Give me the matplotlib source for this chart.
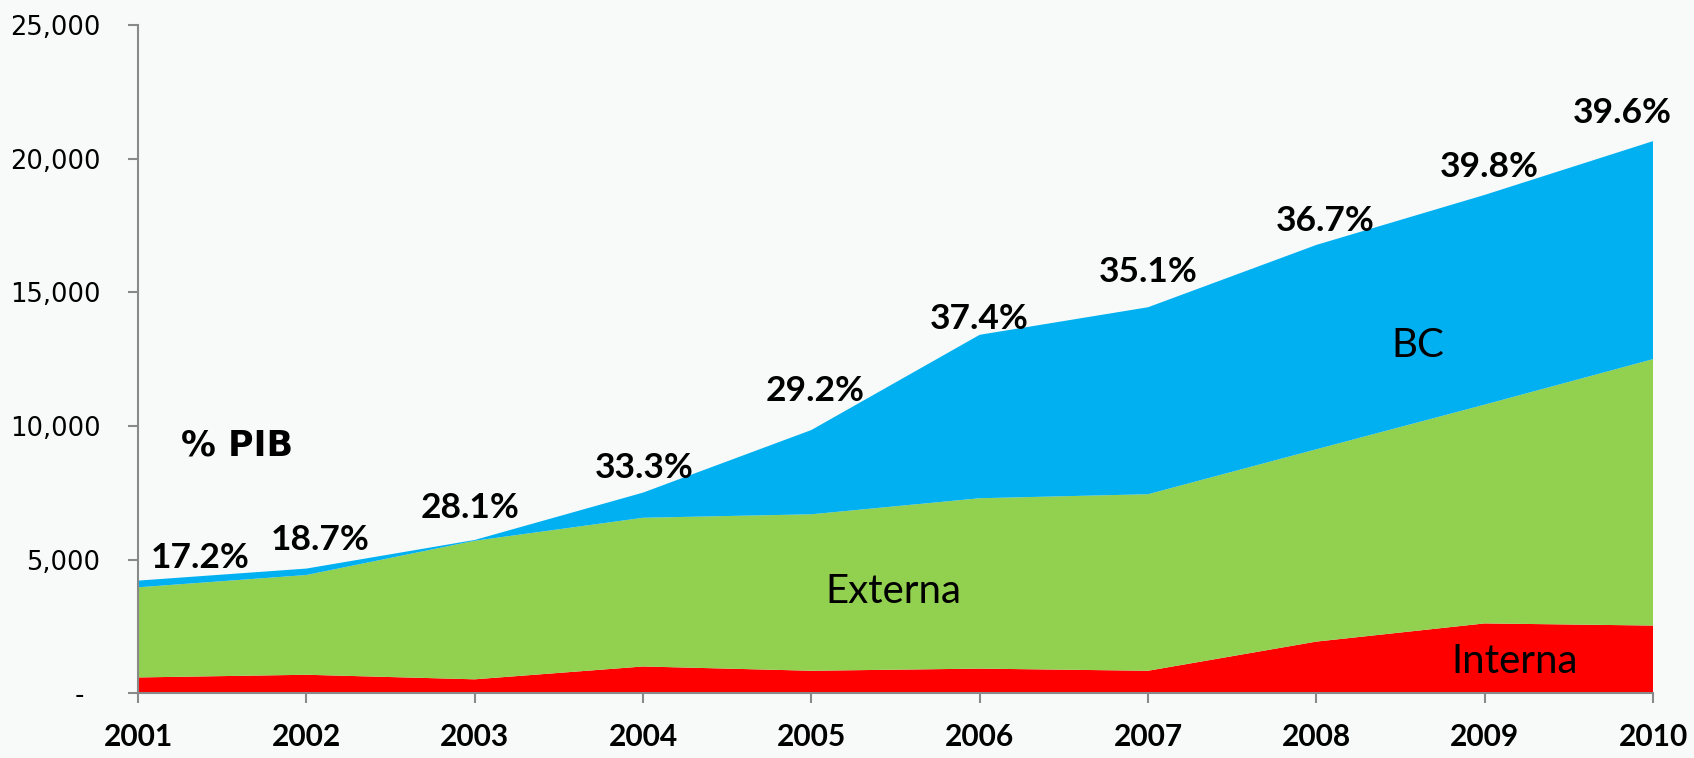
import numpy as np
import matplotlib.pyplot as plt
from matplotlib.ticker import FuncFormatter

# years and stacked series (millions)
years = [2001, 2002, 2003, 2004, 2005, 2006, 2007, 2008, 2009, 2010]
interna = [600, 700, 530, 1010, 850, 930, 850, 1940, 2620, 2540]
externa = [3370, 3730, 5180, 5560, 5850, 6370, 6600, 7190, 8180, 9960]
bc = [250, 240, 30, 940, 3150, 6110, 6990, 7640, 7840, 8150]

# % of GDP labels
pib_labels = ['17.2%', '18.7%', '28.1%', '33.3%', '29.2%',
              '37.4%', '35.1%', '36.7%', '39.8%', '39.6%']
label_x = [2001.37, 2002.08, 2002.97, 2004.01, 2005.02,
           2006.0, 2007.0, 2008.05, 2009.03, 2009.82]
label_y = [5048, 5735, 6947, 8441, 11308, 14014, 15750, 17649, 19669, 21688]

bg = '#f8f9f9'
fig = plt.figure(figsize=(16.94, 7.58), dpi=100, facecolor=bg)
ax = fig.add_axes([0.0815, 0.0851, 0.8943, 0.8822], facecolor=bg)

ax.stackplot(years, interna, externa, bc,
             colors=['#ff0000', '#92d050', '#00b0f0'], linewidth=0)

ax.set_xlim(2001, 2010)
ax.set_ylim(0, 25000)
ax.set_xticks(years)
ax.set_yticks(np.arange(0, 25001, 5000))
ax.yaxis.set_major_formatter(
    FuncFormatter(lambda v, p: ' -  ' if v == 0 else f'{v:,.0f}'))

for s in ['top', 'right']:
    ax.spines[s].set_visible(False)
for s in ['left', 'bottom']:
    ax.spines[s].set_color('#898989')
    ax.spines[s].set_linewidth(1.5)

ax.tick_params(axis='y', colors='#898989', length=7, width=1.5, pad=20,
               labelcolor='black', labelsize=18.5)
ax.tick_params(axis='x', colors='#898989', length=7, width=1.5, pad=14,
               labelcolor='black')
for t in ax.get_xticklabels():
    t.set_fontfamily('Lato')
    t.set_fontweight('bold')
    t.set_fontsize(21.5)

for x, y, s in zip(label_x, label_y, pib_labels):
    ax.text(x, y, s, ha='center', va='center', fontsize=25.5,
            fontweight='bold', family='Lato')

ax.text(2001.59, 9290, '% PIB', ha='center', va='center', fontsize=25,
        fontweight='bold')
ax.text(2008.6, 13005, 'BC', ha='center', va='center', fontsize=29, family='Lato')
ax.text(2005.49, 3797, 'Externa', ha='center', va='center', fontsize=29, family='Lato')
ax.text(2009.18, 1212, 'Interna', ha='center', va='center', fontsize=29, family='Lato')

plt.savefig('out.png', facecolor=bg)
